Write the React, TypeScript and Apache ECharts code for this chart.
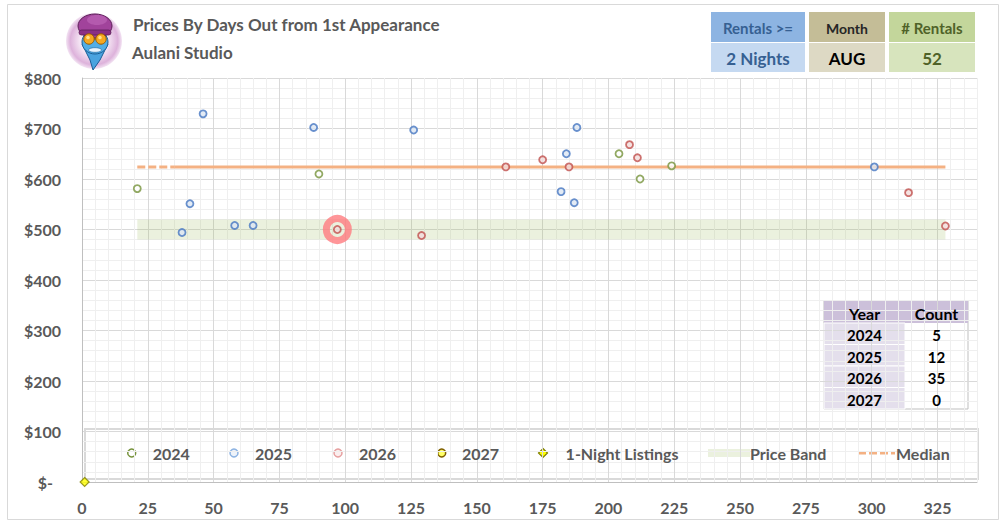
import React, { useEffect, useRef } from "react";
import * as echarts from "echarts";

// ---------- data ----------
const data2024: number[][] = [[21, 581], [90, 610], [204, 650], [212, 600], [224, 626]];
const data2025: number[][] = [
  [38, 494], [41, 551], [46, 729], [58, 508], [65, 508], [88, 702],
  [126, 697], [182, 575], [184, 650], [187, 553], [188, 702], [301, 624],
];
const data2026: number[][] = [
  [97, 500], [129, 488], [161, 624], [175, 638], [185, 624],
  [208, 668], [211, 642], [314, 573], [328, 507],
];
const data2027: number[][] = [];
const oneNight: number[][] = [[1, 0]];
const highlightPoint: number[][] = [[97, 500]];

const medianValue = 624;
const medianStart = 21;
const medianDashEnd = 35;
const medianEnd = 328;

const bandLow = 480;
const bandHigh = 520;
const bandStart = 21;
const bandEnd = 328;

const tableYears = ["2024", "2025", "2026", "2027"];
const tableCounts = ["5", "12", "35", "0"];

const filterHeaders = ["Rentals >=", "Month", "# Rentals"];
const filterValues = ["2 Nights", "AUG", "52"];

const legendLabels = ["2024", "2025", "2026", "2027", "1-Night Listings", "Price Band", "Median"];

const titleText = "Prices By Days Out from 1st Appearance";
const subtitleText = "Aulani Studio";

// ---------- styles ----------
const FONT = 'Lato, "Open Sans", sans-serif';
const GREY = "#595959";
const MAJOR = "#d9d9d9";
const MINOR = "#efefef";

export default function App() {
  const ref = useRef<HTMLDivElement>(null);

  useEffect(() => {
    const chart = echarts.init(ref.current!, null, { renderer: "svg" });

    const txt = (text: string, x: number, y: number, size: number, color: string, align = "left") => ({
      type: "text",
      x,
      y,
      silent: true,
      z: 10,
      style: {
        text,
        fill: color,
        stroke: "none",
        lineWidth: 0,
        font: `bold ${size}px ${FONT}`,
        align,
        verticalAlign: "middle",
      },
    });

    // legend graphic
    const ly = 453;
    const legendG: any[] = [
      { type: "rect", shape: { x: 85, y: 429, width: 893, height: 50 }, style: { fill: "none", stroke: "#d9d9d9", lineWidth: 2 }, silent: true },
      { type: "circle", shape: { cx: 131.7, cy: ly, r: 4 }, style: { fill: "#ffffff", stroke: "#77933c", lineWidth: 1.5 } },
      { type: "circle", shape: { cx: 234, cy: ly, r: 4 }, style: { fill: "#eef3fa", stroke: "#8db3e2", lineWidth: 1.5 } },
      { type: "circle", shape: { cx: 338, cy: ly, r: 4 }, style: { fill: "#fbeeee", stroke: "#e6a0a0", lineWidth: 1.5 } },
      { type: "circle", shape: { cx: 441.7, cy: ly, r: 4 }, style: { fill: "#ffff66", stroke: "#7f6000", lineWidth: 1.5 } },
      { type: "polygon", shape: { points: [[543, ly - 4.5], [547.5, ly], [543, ly + 4.5], [538.5, ly]] }, style: { fill: "#ffff00", stroke: "#7f7f00", lineWidth: 1.2 } },
      { type: "rect", shape: { x: 708, y: 449, width: 42, height: 8 }, style: { fill: "#ebf1de" } },
      { type: "line", shape: { x1: 858, y1: ly, x2: 895, y2: ly }, style: { stroke: "#f4b183", lineWidth: 3, lineDash: [8, 3] } },
      txt(legendLabels[0], 152.7, ly, 16, GREY),
      txt(legendLabels[1], 255, ly, 16, GREY),
      txt(legendLabels[2], 359, ly, 16, GREY),
      txt(legendLabels[3], 462, ly, 16, GREY),
      txt(legendLabels[4], 565.6, ly, 16, GREY),
      txt(legendLabels[5], 750, ly, 16, GREY),
      txt(legendLabels[6], 896, ly, 16, GREY),
    ];

    // filter boxes
    const boxes = [
      { x: 711, w: 94, hFill: "#8db4e2", vFill: "#c5d9f1", hColor: "#366092", vColor: "#366092", hSize: 15 },
      { x: 809, w: 76, hFill: "#c4bd97", vFill: "#ddd9c4", hColor: "#262626", vColor: "#000000", hSize: 14 },
      { x: 889, w: 86, hFill: "#c3d69b", vFill: "#d7e4bd", hColor: "#4f6228", vColor: "#4f6228", hSize: 15 },
    ];
    const boxG: any[] = [];
    boxes.forEach((b, i) => {
      boxG.push({ type: "rect", shape: { x: b.x, y: 12, width: b.w, height: 30 }, style: { fill: b.hFill }, silent: true });
      boxG.push({ type: "rect", shape: { x: b.x, y: 43, width: b.w, height: 29 }, style: { fill: b.vFill }, silent: true });
      boxG.push(txt(filterHeaders[i], b.x + b.w / 2, 28, b.hSize, b.hColor, "center"));
      boxG.push(txt(filterValues[i], b.x + b.w / 2, 58, 17, b.vColor, "center"));
    });

    // table
    const tx = 824, ty = 301, tw = 144, colW = 81, hh = 22, rh = 21.5;
    const tableG: any[] = [
      { type: "rect", shape: { x: tx, y: ty, width: tw, height: hh + rh * 4 }, style: { fill: "#ffffff", stroke: "#bfbfbf", lineWidth: 1 }, silent: true },
      { type: "rect", shape: { x: tx, y: ty, width: tw, height: hh }, style: { fill: "#ccc0da" }, silent: true },
      txt("Year", tx + colW / 2, ty + hh / 2 + 1, 16, "#000000", "center"),
      txt("Count", tx + colW + (tw - colW) / 2, ty + hh / 2 + 1, 16, "#000000", "center"),
    ];
    tableYears.forEach((yr, i) => {
      const ry = ty + hh + i * rh;
      tableG.push({ type: "rect", shape: { x: tx, y: ry, width: colW, height: rh }, style: { fill: "#e4dfec", stroke: "#ffffff", lineWidth: 1 }, silent: true });
      tableG.push(txt(yr, tx + colW / 2, ry + rh / 2 + 1.5, 15, "#000000", "center"));
      tableG.push(txt(tableCounts[i], tx + colW + (tw - colW) / 2, ry + rh / 2 + 1.5, 15, "#000000", "center"));
    });

    // logo
    const cx = 95;
    const logoG: any[] = [
      {
        type: "circle",
        shape: { cx: 94, cy: 41, r: 28 },
        style: {
          fill: new echarts.graphic.RadialGradient(0.5, 0.5, 0.5, [
            { offset: 0, color: "#ffffff" },
            { offset: 0.5, color: "#f5e6f4" },
            { offset: 0.85, color: "#ddb2db" },
            { offset: 1, color: "#f3e4f3" },
          ]),
        },
        silent: true,
      },
      { type: "polygon", shape: { points: [[cx - 13, 44], [cx + 13, 44], [cx + 5, 60], [cx - 2, 70], [cx - 5, 60]] }, style: { fill: "#4aa3df", stroke: "#1b5e96", lineWidth: 1 }, silent: true },
      { type: "ellipse", shape: { cx, cy: 42, rx: 13, ry: 12 }, style: { fill: "#52aee6", stroke: "#1b5e96", lineWidth: 1 }, silent: true },
      { type: "ellipse", shape: { cx, cy: 26, rx: 17, ry: 12 }, style: { fill: "#a1439b", stroke: "#5c1f58", lineWidth: 1 }, silent: true },
      { type: "ellipse", shape: { cx: cx + 2, cy: 20, rx: 10, ry: 5 }, style: { fill: "#b45aae" }, silent: true },
      { type: "rect", shape: { x: cx - 16, y: 30, width: 32, height: 5, r: 2.5 }, style: { fill: "#8a2f84", stroke: "#5c1f58", lineWidth: 0.8 }, silent: true },
      { type: "line", shape: { x1: cx - 11, y1: 39, x2: cx + 11, y2: 39 }, style: { stroke: "#7a4a00", lineWidth: 1 }, silent: true },
      { type: "circle", shape: { cx: cx - 6, cy: 39, r: 5.2 }, style: { fill: "#f6a821", stroke: "#9a5a00", lineWidth: 1 }, silent: true },
      { type: "circle", shape: { cx: cx + 6, cy: 39, r: 5.2 }, style: { fill: "#f6a821", stroke: "#9a5a00", lineWidth: 1 }, silent: true },
      { type: "circle", shape: { cx: cx - 7, cy: 37.5, r: 1.8 }, style: { fill: "#ffe08a" }, silent: true },
      { type: "circle", shape: { cx: cx + 5, cy: 37.5, r: 1.8 }, style: { fill: "#ffe08a" }, silent: true },
      { type: "ellipse", shape: { cx, cy: 50, rx: 6.5, ry: 2.3 }, style: { fill: "#e8f4ff", stroke: "#1b5e96", lineWidth: 0.6 }, silent: true },
    ];

    const option: any = {
      animation: false,
      backgroundColor: "#ffffff",
      textStyle: { fontFamily: FONT },
      grid: { left: 82, top: 78, right: 28, bottom: 44, containLabel: false, outerBoundsMode: "none" },
      xAxis: {
        type: "value",
        min: 0,
        max: 340,
        interval: 5,
        axisLine: { show: true, onZero: false, lineStyle: { color: "#bfbfbf", width: 1 } },
        axisTick: { show: false },
        splitLine: { show: true, lineStyle: { color: [MAJOR, MINOR, MINOR, MINOR, MINOR], width: 1 } },
        axisLabel: {
          fontSize: 16,
          fontWeight: "bold",
          color: GREY,
          fontFamily: FONT,
          margin: 17,
          formatter: (v: number) => (v % 25 === 0 ? String(v) : ""),
        },
      },
      yAxis: {
        type: "value",
        min: 0,
        max: 800,
        interval: 20,
        axisLine: { show: true, lineStyle: { color: "#bfbfbf", width: 1 } },
        axisTick: { show: false },
        splitLine: { show: true, lineStyle: { color: [MAJOR, MINOR, MINOR, MINOR, MINOR], width: 1 } },
        axisLabel: {
          fontSize: 16,
          fontWeight: "bold",
          color: GREY,
          fontFamily: FONT,
          margin: 21,
          formatter: (v: number) => (v % 100 !== 0 ? "" : v === 0 ? "{z|$-}" : "$" + v),
          rich: { z: { fontSize: 16, fontWeight: "bold", color: GREY, fontFamily: FONT, padding: [0, 8, 0, 0] } },
        },
      },
      series: [
        {
          name: "Price Band",
          type: "line",
          data: [[bandStart, (bandLow + bandHigh) / 2]],
          showSymbol: false,
          symbol: "none",
          lineStyle: { width: 0, opacity: 0 },
          silent: true,
          markArea: {
            silent: true,
            itemStyle: { color: "rgba(155,187,89,0.2)" },
            data: [[{ coord: [bandStart, bandLow] }, { coord: [bandEnd, bandHigh] }]],
          },
          z: 1,
        },
        {
          name: "Median",
          type: "line",
          data: [[medianStart, medianValue], [medianDashEnd, medianValue]],
          symbol: "none",
          lineStyle: { color: "#f4b183", width: 3, type: [8, 3], cap: "butt" },
          silent: true,
          z: 2,
        },
        {
          name: "Median ",
          type: "line",
          data: [[medianDashEnd, medianValue], [medianEnd, medianValue]],
          symbol: "none",
          lineStyle: { color: "#f4b183", width: 3, cap: "butt" },
          silent: true,
          z: 2,
        },
        {
          name: "Highlight",
          type: "scatter",
          data: highlightPoint,
          symbolSize: 22,
          itemStyle: { color: "rgba(0,0,0,0)", borderColor: "#ff7c80", borderWidth: 7 },
          silent: true,
          z: 3,
        },
        {
          name: "2024",
          type: "scatter",
          data: data2024,
          symbol: "circle",
          symbolSize: 7,
          itemStyle: { color: "#ffffff", borderColor: "#77933c", borderWidth: 1.8 },
          z: 4,
        },
        {
          name: "2025",
          type: "scatter",
          data: data2025,
          symbol: "circle",
          symbolSize: 7,
          itemStyle: { color: "#dce6f2", borderColor: "#4677c2", borderWidth: 1.8 },
          z: 4,
        },
        {
          name: "2026",
          type: "scatter",
          data: data2026,
          symbol: "circle",
          symbolSize: 7,
          itemStyle: { color: "#f2dcdb", borderColor: "#c0504d", borderWidth: 1.8 },
          z: 4,
        },
        {
          name: "2027",
          type: "scatter",
          data: data2027,
          symbol: "circle",
          symbolSize: 7,
          itemStyle: { color: "#ffff66", borderColor: "#7f6000", borderWidth: 1.8 },
          z: 4,
        },
        {
          name: "1-Night Listings",
          type: "scatter",
          data: oneNight,
          symbol: "diamond",
          symbolSize: 9,
          clip: false,
          itemStyle: { color: "#ffff00", borderColor: "#7f7f00", borderWidth: 1.2 },
          z: 5,
        },
      ],
      graphic: [
        { type: "rect", shape: { x: 7.5, y: 4.5, width: 991, height: 515 }, style: { fill: "none", stroke: "#d9d9d9", lineWidth: 1 }, silent: true, z: -10 },
        ...logoG,
        txt(titleText, 133, 24.5, 17, GREY),
        txt(subtitleText, 132, 52.5, 17, GREY),
        ...boxG,
        ...tableG,
        ...legendG,
      ],
    };

    chart.setOption(option);
    return () => chart.dispose();
  }, []);

  return (
    <div
      ref={ref}
      style={{ position: "absolute", left: 0, top: 0, width: 1005, height: 526, background: "#ffffff" }}
    />
  );
}
